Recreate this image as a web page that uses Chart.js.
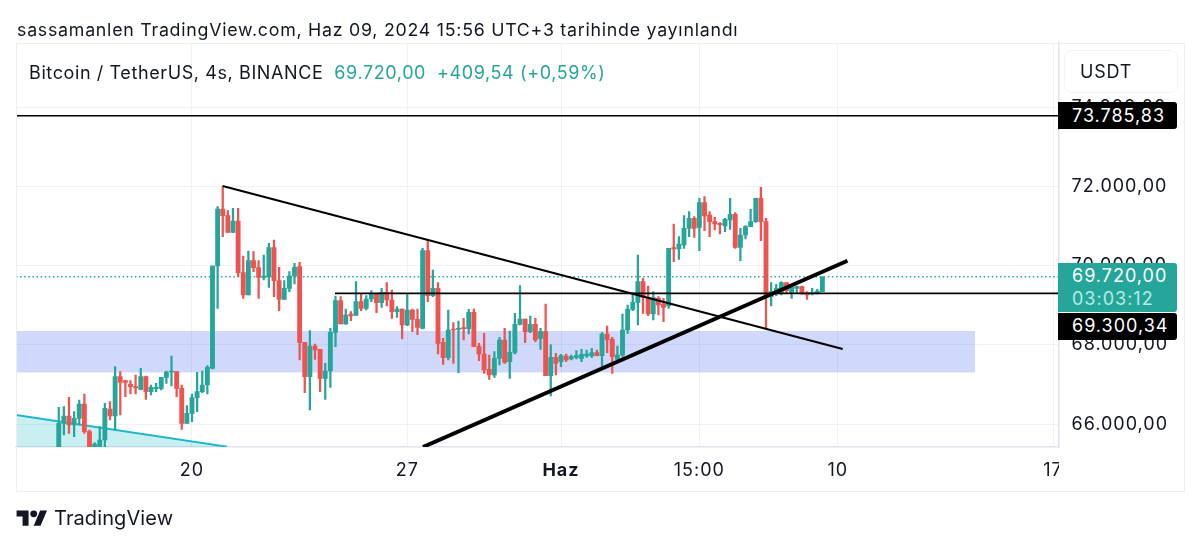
<!DOCTYPE html>
<html>
<head>
<meta charset="utf-8">
<script src="https://cdn.jsdelivr.net/npm/chart.js@4"></script>
<style>
  html, body { margin: 0; padding: 0; background: #fff; }
  body { width: 1200px; height: 548px; position: relative; overflow: hidden; font-family: Inter, sans-serif; color: #131722; }
  canvas { position: absolute; left: 0; top: 0; }
  .abs { position: absolute; white-space: nowrap; }
  #frame { left: 16px; top: 43px; width: 1167px; height: 447px; border: 1px solid #eceef3; }
  #mask { left: 1059px; top: 448px; width: 124px; height: 42px; background: #fff; }
  #published { left: 17px; top: 20px; font-size: 17.8px; line-height: 20px; letter-spacing: 0.74px; }
  #legend { left: 29px; top: 62px; font-size: 18px; line-height: 22px; letter-spacing: 0.6px; }
  #legend span { color: #26a69a; margin-left: 11px; }
  #unit { left: 1064px; top: 50px; width: 112px; height: 41px; border: 1px solid #f0f3fa; border-radius: 8px; font-size: 18px; letter-spacing: 0.8px; line-height: 41px; text-indent: 15px; }
  .tag { left: 1058px; width: 119px; border-radius: 0 3px 3px 0; color: #fff; font-size: 18px; text-indent: 14px; letter-spacing: 1px; }
  #tag1 { top: 102px; height: 27px; line-height: 27px; background: #000; }
  #tag2 { top: 263px; height: 48px; background: #26a69a; line-height: 23px; padding-top: 1px; }
  #tag2 div + div { color: #b5ece4; }
  #tag3 { top: 313px; height: 27px; line-height: 26px; background: #000; }
  #logo { left: 16px; top: 507px; }
  #brand { left: 54px; top: 506px; font-size: 20px; line-height: 24px; letter-spacing: 0.1px; }
</style>
</head>
<body>
<canvas id="chart" width="1200" height="548"></canvas>
<div class="abs" id="frame"></div>
<div class="abs" id="mask"></div>
<div class="abs" id="published">sassamanlen TradingView.com, Haz 09, 2024 15:56 UTC+3 tarihinde yayınlandı</div>
<div class="abs" id="legend">Bitcoin / TetherUS, 4s, BINANCE<span>69.720,00</span><span>+409,54 (+0,59%)</span></div>
<div class="abs" id="unit">USDT</div>
<div class="abs tag" id="tag1">73.785,83</div>
<div class="abs tag" id="tag2"><div>69.720,00</div><div>03:03:12</div></div>
<div class="abs tag" id="tag3">69.300,34</div>
<svg class="abs" id="logo" width="32" height="24" viewBox="0 0 36 28"><path fill="#131722" d="M14 22H7V11H0V4h14v18zM28 22h-8l7.5-18h8L28 22z"/><circle fill="#131722" cx="20" cy="8" r="4"/></svg>
<div class="abs" id="brand">TradingView</div>

<script>
// x is counted in 4h candles, 0 = 20 May
const firstCandle = -26;

const opens = [
  65350,66020,66205,65978,66146,66508,65810,65389,65420,65599,
  66382,66205,67198,67098,67005,66946,66879,67198,66820,66895,
  66904,67182,67316,67325,66904,66020,66273,66668,66820,66988,
  67409,69993,71432,71264,70843,71129,69825,69261,70128,69951,
  69707,69724,70456,69623,69151,69429,69740,69976,68065,67199,
  67973,67889,67156,67342,68318,69118,68528,68781,68747,69092,
  68924,69160,69303,69067,69328,69134,68840,68907,68503,68882,
  68646,68419,70380,69244,69429,68065,67678,68402,68394,68436,
  68402,68823,67956,67771,67384,67241,67661,68124,67577,67813,
  68520,68655,68335,68520,68166,68335,67224,67687,67577,67720,
  67644,67686,67661,67720,67720,67804,67728,68275,68141,67636,
  67745,68376,68898,69075,69597,69201,68780,69176,69033,68982,
  70455,70422,70523,70944,71196,70969,71592,71280,71112,71070,
  71002,71154,71297,70464,70775,70986,71112,71701,71112,69218,
  69302,69302,69572,69302,69428,69470,69319,69285,69302,69344
];
const highs = [
  66424,66441,66677,66315,66609,66761,65852,65532,65936,66525,
  66567,67451,67325,67098,67098,67241,67409,67215,66988,67030,
  67182,67341,67720,67325,66988,66466,66761,67308,67341,67476,
  69993,71491,71996,71390,71449,71449,70245,70372,70355,70128,
  70271,70565,70649,69959,69623,69850,70060,70086,68065,68360,
  68023,67889,67535,68419,69235,69219,68907,68840,69597,69303,
  69244,69370,69303,69429,69572,69387,68966,68907,69303,68907,
  68907,70439,70649,69892,69572,68166,68882,68562,68604,68672,
  68899,68907,68040,68293,67746,67830,68192,68419,68352,68798,
  69496,68655,68730,68672,68419,69033,68000,67788,67762,67770,
  67745,67855,67888,67871,67913,67871,68309,68477,68191,67972,
  68780,69008,69319,70270,69681,69487,69344,69218,69176,70439,
  71053,70733,71263,71364,71238,71701,71743,71364,71221,71087,
  71196,71701,71339,70944,71011,71423,71701,71979,71196,69572,
  69530,69597,69572,69470,69487,69487,69344,69428,69403,69720
];
const lows = [
  65250,65726,65768,65683,65978,65768,65300,65300,65350,65431,
  66104,65852,66230,66693,66761,66761,66862,66626,66736,66820,
  66862,67030,66963,66693,65869,66020,66062,66315,66795,66761,
  67392,68924,70734,70843,70843,69724,69176,69261,69850,69176,
  69639,69454,69219,68865,69151,69345,69538,67619,66794,66357,
  67636,66820,66626,66929,67956,68528,68520,68613,68747,68865,
  68882,69092,68815,68949,68983,68672,68697,68150,68486,68335,
  68259,68402,69092,69219,67771,67510,67619,67535,67300,68124,
  68276,67956,67603,67283,67131,67182,67493,67535,67156,67771,
  68503,68057,68310,68082,67889,67224,66710,67241,67450,67577,
  67619,67644,67577,67686,67678,67720,67408,67804,67282,67619,
  67703,68292,68865,68503,68797,68738,68629,68755,68587,68923,
  70102,70161,70439,70733,70716,70380,70885,70733,70901,70800,
  70859,70918,70439,70127,70674,70986,71095,70632,68418,68982,
  69243,69260,69302,69176,69302,69277,69151,69260,69285,69344
];
const closes = [
  66020,66205,65978,66146,66508,65810,65389,65498,65599,66399,
  66205,67198,67055,67055,66946,66912,67198,66820,66929,66929,
  67182,67316,67341,66904,66020,66273,66668,66820,66988,67434,
  69993,71432,71264,70843,71129,69825,69261,70128,69951,69707,
  69740,70456,69623,69151,69429,69740,69959,68065,67199,67973,
  67872,67156,67342,68318,69118,68528,68756,68730,69092,68924,
  69160,69303,69067,69328,69134,68840,68907,68503,68882,68646,
  68444,70380,69244,69429,68040,67678,68377,68377,68419,68411,
  68823,67956,67771,67367,67241,67661,68124,67560,67813,68520,
  68655,68335,68520,68124,68335,67224,67687,67535,67728,67619,
  67703,67728,67762,67770,67804,67728,68275,68141,67703,67745,
  68376,68898,69075,69597,69201,68780,69193,69008,68949,70439,
  70422,70548,70944,71196,70944,71592,71255,71112,71053,71036,
  71171,71297,70464,70775,70986,71112,71701,71112,69260,69344,
  69428,69572,69370,69454,69470,69302,69260,69319,69361,69720
];

const priceTicks = [66000, 68000, 70000, 72000, 74000];
const priceTickLabels = ['66.000,00', '68.000,00', '70.000,00', '72.000,00', '74.000,00'];
const timeTicks = [0, 42, 72, 99, 126, 168];
const timeTickLabels = ['20', '27', 'Haz', '15:00', '10', '17'];

// drawings on the chart, [x, price]
const resistanceLine = [[-34.34, 73785.83], [169.07, 73785.83]];
const supportLine = [[27.9, 69300.34], [169.07, 69300.34]];
const lastPriceLine = [[-34.34, 69720], [169.07, 69720]];
const fallingLine = [[5.98, 72012], [126.96, 67897]];
const risingLine = [[45.07, 65422], [127.9, 70126]];
const cyanLine = [[-34.34, 66230], [6.83, 65430]];
const zoneTop = [[-34.34, 68351], [152.8, 68351]];
const zoneBottom = [[-34.34, 67303], [152.8, 67303]];

const UP = '#26a69a';
const DOWN = '#ef5350';
const candleColors = opens.map((o, i) => closes[i] >= o ? UP : DOWN);

function toPoints(line) {
    return line.map(p => ({ x: p[0], y: p[1] }));
}

function lineSet(line, color, width, order, extra) {
    return Object.assign({
        type: 'line',
        data: toPoints(line),
        borderColor: color,
        borderWidth: width,
        pointRadius: 0,
        tension: 0,
        fill: false,
        order: order
    }, extra || {});
}

// axis labels are tracked wider than the font's default
const labelSpacing = {
    id: 'labelSpacing',
    beforeDraw(chart) {
        chart.ctx.letterSpacing = '1px';
    }
};

new Chart(document.getElementById('chart').getContext('2d'), {
    plugins: [labelSpacing],
    data: {
        datasets: [
            lineSet(zoneTop, 'transparent', 0, 9, { fill: '+1', backgroundColor: 'rgba(60,90,240,0.24)' }),
            lineSet(zoneBottom, 'transparent', 0, 9),
            lineSet(cyanLine, '#1fb6ca', 2, 8, { fill: 'start', backgroundColor: 'rgba(34,190,205,0.24)' }),
            lineSet(lastPriceLine, UP, 1.5, 7, { borderDash: [1.5, 2.6] }),
            {
                type: 'bar',
                data: opens.map((o, i) => ({ x: firstCandle + i, y: [lows[i], highs[i]] })),
                backgroundColor: candleColors,
                barThickness: 1.6,
                grouped: false,
                order: 6
            },
            {
                type: 'bar',
                data: opens.map((o, i) => ({ x: firstCandle + i, y: [o, closes[i]] })),
                backgroundColor: candleColors,
                barThickness: 4.2,
                minBarLength: 1,
                grouped: false,
                order: 5
            },
            lineSet(resistanceLine, '#000', 1.6, 4),
            lineSet(supportLine, '#000', 1.8, 3),
            lineSet(fallingLine, '#000', 2, 2),
            lineSet(risingLine, '#000', 4, 1)
        ]
    },
    options: {
        responsive: false,
        animation: false,
        events: [],
        layout: { padding: { left: 16, top: 43, right: 16, bottom: 57 } },
        plugins: { legend: { display: false }, tooltip: { enabled: false } },
        scales: {
            x: {
                type: 'linear',
                min: -34.34,
                max: 169.07,
                offset: false,
                afterBuildTicks: scale => { scale.ticks = timeTicks.map(v => ({ value: v })); },
                afterFit: scale => { scale.height = 44; },
                grid: { color: '#f0f1f4', offset: false, drawTicks: false },
                border: { color: '#e0e3eb', width: 1.5 },
                ticks: {
                    autoSkip: false,
                    maxRotation: 0,
                    padding: 13,
                    color: '#131722',
                    font: ctx => ({ family: 'Inter', size: 18, weight: ctx.index === 2 ? 'bold' : 'normal' }),
                    callback: value => timeTickLabels[timeTicks.indexOf(value)]
                }
            },
            y: {
                type: 'linear',
                position: 'right',
                min: 65422,
                max: 75624,
                afterBuildTicks: scale => { scale.ticks = priceTicks.map(v => ({ value: v })); },
                afterFit: scale => { scale.width = 125.5; },
                grid: { color: '#f0f1f4', drawTicks: false },
                border: { color: '#e0e3eb', width: 1.5 },
                ticks: {
                    padding: 13,
                    color: '#131722',
                    font: { family: 'Inter', size: 18 },
                    callback: value => priceTickLabels[priceTicks.indexOf(value)]
                }
            }
        }
    }
});
</script>
</body>
</html>
